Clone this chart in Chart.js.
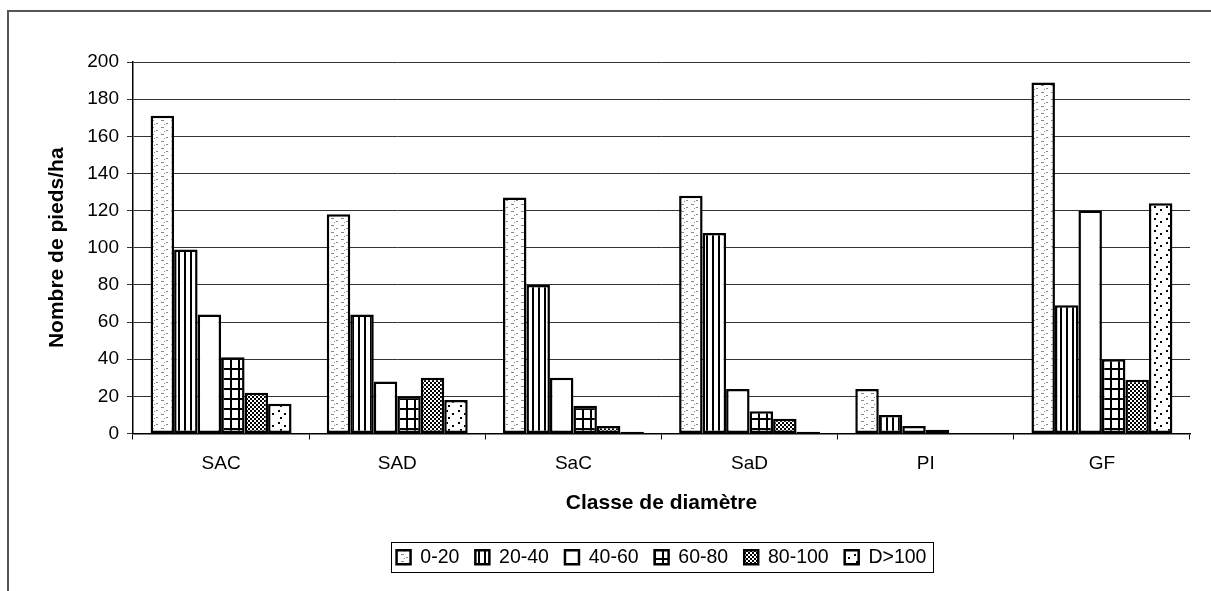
<!DOCTYPE html>
<html>
<head>
<meta charset="utf-8">
<script src="https://cdn.jsdelivr.net/npm/chart.js@4/dist/chart.umd.min.js"></script>
<style>
  html, body { margin: 0; padding: 0; background: #fff; }
  #wrap { position: relative; width: 1211px; height: 591px; overflow: hidden; }
  #frame { position: absolute; left: 7px; top: 10px; right: -4px; bottom: -4px;
           border-top: 2px solid #555; border-left: 2px solid #555; }
  canvas { position: absolute; left: 0; top: 0; }
</style>
</head>
<body>
<div id="wrap">
  <div id="frame"></div>
  <canvas id="chart" width="1211" height="591"></canvas>
</div>
<script>
const categories = ["SAC", "SAD", "SaC", "SaD", "PI", "GF"];
const classLabels = ["0-20", "20-40", "40-60", "60-80", "80-100", "D>100"];

const d0_20 = [171, 118, 127, 128, 24, 189];
const d20_40 = [99, 64, 80, 108, 10, 69];
const d40_60 = [64, 28, 30, 24, 4, 120];
const d60_80 = [41, 20, 15, 12, 2, 40];
const d80_100 = [22, 30, 4, 8, 0, 29];
const dOver100 = [16, 18, 1, 1, 0, 124];

const yTicks = [0, 20, 40, 60, 80, 100, 120, 140, 160, 180, 200];

// little tiles used as hatch fills
function makePattern(w, h, draw) {
  const c = document.createElement("canvas");
  c.width = w;
  c.height = h;
  const g = c.getContext("2d");
  g.fillStyle = "#fff";
  g.fillRect(0, 0, w, h);
  draw(g);
  return g.createPattern(c, "repeat");
}

const ctx = document.getElementById("chart").getContext("2d");

const speckle = makePattern(10, 7, g => {
  g.fillStyle = "#888";
  g.fillRect(1, 1, 3, 1);
  g.fillRect(6, 4, 2, 1);
  g.fillRect(4, 5, 1, 1);
});
const stripes = makePattern(6, 4, g => {
  g.fillStyle = "#000";
  g.fillRect(4, 0, 2, 4);
});
const grid = makePattern(8, 10, g => {
  g.fillStyle = "#000";
  g.fillRect(6, 0, 2, 10);
  g.fillRect(0, 8, 8, 2);
});
const checks = makePattern(4, 4, g => {
  g.fillStyle = "#000";
  g.fillRect(0, 0, 2, 2);
  g.fillRect(2, 2, 2, 2);
});
const dots = makePattern(12, 12, g => {
  g.fillStyle = "#000";
  g.fillRect(2, 2, 2, 2);
  g.fillRect(8, 5, 2, 2);
  g.fillRect(4, 9, 2, 2);
});

const fills = [speckle, stripes, "#fff", grid, checks, dots];
const values = [d0_20, d20_40, d40_60, d60_80, d80_100, dOver100];

const datasets = classLabels.map((lab, i) => ({
  label: lab,
  data: values[i],
  backgroundColor: fills[i],
  borderColor: "#000",
  borderWidth: 2.5,
  borderSkipped: false,
  categoryPercentage: 0.8,
  barPercentage: 1.0,
}));

// centre the legend under the plot area, then box it like the original
const legendFrame = {
  id: "legendFrame",
  afterLayout(chart) {
    const lg = chart.legend;
    const a = chart.chartArea;
    const dx = (a.left + a.right) / 2 - (lg.left + lg.right) / 2;
    lg.left += dx;
    lg.right += dx;
  },
  afterDraw(chart) {
    const boxes = chart.legend.legendHitBoxes;
    if (!boxes || !boxes.length) return;
    let l = Infinity, r = -Infinity, t = Infinity, b = -Infinity;
    boxes.forEach(h => {
      l = Math.min(l, h.left);
      r = Math.max(r, h.left + h.width);
      t = Math.min(t, h.top);
      b = Math.max(b, h.top + h.height);
    });
    const c = chart.ctx;
    c.save();
    c.strokeStyle = "#000";
    c.lineWidth = 1;
    c.strokeRect(Math.round(l - 6) + 0.5, Math.round(t - 6) + 0.5, Math.round(r - l + 12), Math.round(b - t + 10));
    c.restore();
  },
};

const font = { family: "'Liberation Sans', Arial, sans-serif", size: 19 };
const boldFont = { family: "'Liberation Sans', Arial, sans-serif", size: 21, weight: "bold" };

new Chart(ctx, {
  type: "bar",
  data: { labels: categories, datasets: datasets },
  options: {
    responsive: false,
    animation: false,
    layout: { padding: { top: 62, left: 10, right: 21, bottom: 14 } },
    plugins: {
      legend: {
        position: "bottom",
        labels: {
          color: "#000",
          font: { family: font.family, size: 19.5 },
          boxWidth: 14,
          boxHeight: 14,
          padding: 16,
        },
      },
      tooltip: { enabled: false },
    },
    scales: {
      x: {
        grid: {
          display: true,
          drawOnChartArea: false,
          offset: true,
          tickLength: 6,
          color: "#000",
        },
        border: { color: "#000", width: 1.5 },
        ticks: { color: "#000", font: font, padding: 13 },
        title: {
          display: true,
          text: "Classe de diamètre",
          color: "#000",
          font: boldFont,
          padding: { top: 16, bottom: 16 },
        },
        afterFit(scale) { scale.height = 98; },
      },
      y: {
        min: 0,
        max: 200,
        afterBuildTicks(scale) { scale.ticks = yTicks.map(v => ({ value: v })); },
        grid: { color: "#333", lineWidth: 1, tickLength: 6 },
        border: { color: "#000", width: 1.5 },
        ticks: { color: "#000", font: font, padding: 8 },
        title: {
          display: true,
          text: "Nombre de pieds/ha",
          color: "#000",
          font: boldFont,
          padding: { top: 35, bottom: 10 },
        },
        afterFit(scale) { scale.width = 123; },
      },
    },
  },
  plugins: [legendFrame],
});
</script>
</body>
</html>
